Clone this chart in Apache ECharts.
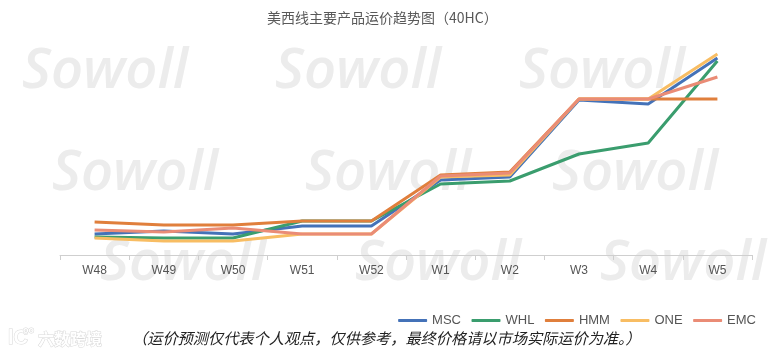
<!DOCTYPE html>
<html>
<head>
<meta charset="utf-8">
<style>
  html, body { margin: 0; padding: 0; background: #fff; }
  #chart { width: 774px; height: 353px; }
</style>
<script src="https://cdn.jsdelivr.net/npm/echarts@6/dist/echarts.min.js"></script>
</head>
<body>
<div id="chart"></div>
<script>
const categories = ['W48', 'W49', 'W50', 'W51', 'W52', 'W1', 'W2', 'W3', 'W4', 'W5']
const msc = [21, 24, 21, 29, 29, 75, 78, 155, 151, 197]
const whl = [18, 17, 17, 34, 34, 71, 74, 101, 112, 194]
const hmm = [33, 30, 30, 34, 34, 80, 83, 156, 156, 156]
const one = [17, 14, 14, 21, 21, 78, 80, 156, 156, 201]
const emc = [25, 23, 27, 21, 21, 79, 82, 156, 156, 178]

const colors = { MSC: '#4472b8', WHL: '#3a9d6e', HMM: '#e07f3c', ONE: '#f8bd63', EMC: '#ea8c76' }
const seriesData = { MSC: msc, WHL: whl, HMM: hmm, ONE: one, EMC: emc }

const watermarkPos = [
  [22, 44], [275, 44], [519, 44],
  [52, 146], [305, 146], [552, 146],
  [100, 236], [355, 236], [600, 236]
]

const chart = echarts.init(document.getElementById('chart'))
chart.setOption({
  animation: false,
  title: {
    text: '美西线主要产品运价趋势图（40HC）',
    left: 267,
    top: 11,
    padding: 0,
    textStyle: { fontFamily: 'Noto Sans CJK SC', fontSize: 14, fontWeight: 'normal', color: '#595959' }
  },
  legend: {
    right: 13,
    top: 309,
    icon: 'roundRect',
    itemWidth: 29,
    itemHeight: 3,
    itemGap: 10.5,
    textStyle: { fontFamily: 'Liberation Sans', fontSize: 13, color: '#555' },
    data: Object.keys(seriesData)
  },
  grid: { left: 60, right: 22, top: 20, bottom: 98 },
  xAxis: {
    type: 'category',
    data: categories,
    axisLine: { lineStyle: { color: '#cfcfcf' } },
    axisTick: { show: true, length: 5, lineStyle: { color: '#cfcfcf' } },
    axisLabel: { fontFamily: 'Liberation Sans', fontSize: 12, color: '#555', margin: 10 }
  },
  yAxis: { type: 'value', min: 0, max: 235, show: false },
  series: Object.keys(seriesData).map(name => ({
    name,
    type: 'line',
    data: seriesData[name],
    showSymbol: false,
    symbol: 'none',
    lineStyle: { width: 3, color: colors[name] },
    itemStyle: { color: colors[name] }
  })),
  graphic: [
    ...watermarkPos.map(p => ({
      type: 'text',
      x: p[0],
      y: p[1],
      z: -1,
      style: { text: 'Sowoll', font: 'italic 600 56px "Open Sans"', fill: '#ececec' }
    })),
    {
      type: 'text',
      x: 38,
      y: 331,
      style: { text: '六数跨境', font: 'bold 16px "Noto Sans CJK SC"', fill: '#fff', stroke: '#d8d8d8', lineWidth: 1 }
    },
    {
      type: 'text',
      x: 8,
      y: 328,
      style: { text: 'lC', font: 'bold 20px "Liberation Sans"', fill: '#fff', stroke: '#d8d8d8', lineWidth: 1 }
    },
    {
      type: 'text',
      x: 23,
      y: 326,
      style: { text: 'oo', font: 'bold 9px "Liberation Sans"', fill: '#fff', stroke: '#d8d8d8', lineWidth: 1 }
    },
    {
      type: 'text',
      x: 132,
      y: 331,
      style: { text: '（运价预测仅代表个人观点，仅供参考，最终价格请以市场实际运价为准。）', font: 'italic 15.2px "Noto Sans CJK SC"', fill: '#222' }
    }
  ]
})
</script>
</body>
</html>
